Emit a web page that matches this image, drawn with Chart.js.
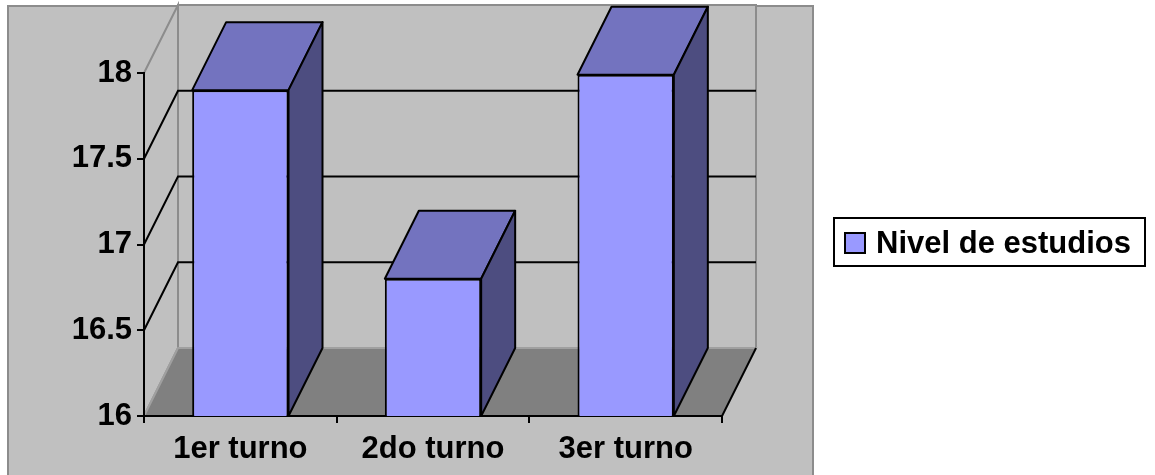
<!DOCTYPE html>
<html>
<head>
<meta charset="utf-8">
<script src="https://cdn.jsdelivr.net/npm/chart.js@4"></script>
<style>
  body { margin: 0; background: #fff; }
  #wrap { width: 1155px; height: 475px; position: relative; }
</style>
</head>
<body>
<div id="wrap"><canvas id="chart"></canvas></div>
<script>
// categories along the bottom
const categories = ["1er turno", "2do turno", "3er turno"];
// bar heights
const nivelDeEstudios = [17.9, 16.8, 17.99];
const seriesName = "Nivel de estudios";
// value axis range
const yMin = 16;
const yMax = 18;
const yStep = 0.5;

// how far the back of the "3d" box is pushed, in pixels
const depthX = 34;
const depthY = -68;

const frontColor = "#9999FF";
const topColor = "#7373BF";
const sideColor = "#4D4D80";
const wallColor = "#C0C0C0";
const floorColor = "#808080";
const edgeGray = "#8C8C8C";

const labelFont = {
  family: "Liberation Sans, Arial, sans-serif",
  size: 31,
  weight: "bold",
};

function poly(ctx, pts, fill, stroke, width) {
  ctx.beginPath();
  ctx.moveTo(pts[0][0], pts[0][1]);
  for (let i = 1; i < pts.length; i++) ctx.lineTo(pts[i][0], pts[i][1]);
  ctx.closePath();
  if (fill) {
    ctx.fillStyle = fill;
    ctx.fill();
  }
  if (stroke) {
    ctx.strokeStyle = stroke;
    ctx.lineWidth = width;
    ctx.stroke();
  }
}

function line(ctx, pts, color, width) {
  ctx.beginPath();
  ctx.moveTo(pts[0][0], pts[0][1]);
  for (let i = 1; i < pts.length; i++) ctx.lineTo(pts[i][0], pts[i][1]);
  ctx.strokeStyle = color;
  ctx.lineWidth = width;
  ctx.stroke();
}

// draws walls, floor and the extruded bar faces
const box3d = {
  id: "box3d",
  beforeDraw(chart) {
    const { ctx, chartArea: a } = chart;
    const y = chart.scales.y;
    ctx.save();
    ctx.fillStyle = "#fff";
    ctx.fillRect(0, 0, chart.width, chart.height);

    // gray plot area
    ctx.fillStyle = wallColor;
    ctx.fillRect(8, 6, 805, 480);
    ctx.strokeStyle = edgeGray;
    ctx.lineWidth = 2;
    ctx.strokeRect(8, 6, 805, 480);

    const L = a.left, R = a.right, T = a.top, B = a.bottom;
    // side wall
    poly(ctx, [[L, T], [L + depthX, T + depthY], [L + depthX, B + depthY], [L, B]], wallColor, edgeGray, 2);
    // back wall
    poly(ctx, [[L + depthX, T + depthY], [R + depthX, T + depthY], [R + depthX, B + depthY], [L + depthX, B + depthY]], wallColor, edgeGray, 2);
    // floor
    poly(ctx, [[L, B], [R, B], [R + depthX, B + depthY], [L + depthX, B + depthY]], floorColor, "#A0A0A0", 2);
    line(ctx, [[R, B], [R + depthX, B + depthY]], "#000", 2);

    // gridlines run along the side wall then across the back wall
    y.ticks.forEach((t) => {
      if (t.value <= yMin || t.value >= yMax) return;
      const py = y.getPixelForValue(t.value);
      line(ctx, [[L, py], [L + depthX, py + depthY], [R + depthX, py + depthY]], "#000", 2);
    });
    ctx.restore();
  },
  afterDatasetsDraw(chart) {
    const { ctx } = chart;
    const bottom = chart.chartArea.bottom;
    const meta = chart.getDatasetMeta(0);
    ctx.save();
    ctx.lineJoin = "round";
    meta.data.forEach((bar) => {
      const p = bar.getProps(["x", "y", "base", "width"], true);
      const base = Math.min(p.base, bottom);
      const x0 = p.x - p.width / 2;
      const x1 = p.x + p.width / 2;
      const y = p.y;
      poly(ctx, [[x0, y], [x1, y], [x1 + depthX, y + depthY], [x0 + depthX, y + depthY]], topColor, "#000", 2);
      poly(ctx, [[x1, y], [x1 + depthX, y + depthY], [x1 + depthX, base + depthY], [x1, base]], sideColor, "#000", 2);
    });
    ctx.restore();
  },
  afterDraw(chart) {
    const { ctx } = chart;
    const ds = chart.data.datasets[0];
    ctx.save();
    ctx.fillStyle = "#fff";
    ctx.fillRect(834, 218, 311, 48);
    ctx.strokeStyle = "#000";
    ctx.lineWidth = 2;
    ctx.strokeRect(834, 218, 311, 48);
    ctx.fillStyle = ds.backgroundColor;
    ctx.fillRect(845, 233, 20, 20);
    ctx.strokeRect(845, 233, 20, 20);
    ctx.fillStyle = "#000";
    ctx.font = `${labelFont.weight} ${labelFont.size}px ${labelFont.family}`;
    ctx.textBaseline = "middle";
    ctx.textAlign = "left";
    ctx.fillText(ds.label, 876, 244);
    ctx.restore();
  },
};

const chart = new Chart(document.querySelector("#chart"), {
  type: "bar",
  data: {
    labels: categories,
    datasets: [
      {
        label: seriesName,
        data: nivelDeEstudios,
        backgroundColor: frontColor,
        borderColor: "#000",
        borderWidth: 2,
        borderSkipped: false,
        barPercentage: 0.5,
        categoryPercentage: 1,
      },
    ],
  },
  options: {
    responsive: true,
    maintainAspectRatio: false,
    animation: false,
    layout: { padding: { top: 73, right: 433, left: 0, bottom: 0 } },
    plugins: {
      legend: { display: false },
      tooltip: { enabled: false },
    },
    scales: {
      x: {
        afterFit: (s) => { s.height = 59; },
        grid: { drawOnChartArea: false, tickLength: 7, color: "#000", lineWidth: 2 },
        border: { display: true, color: "#000", width: 2 },
        ticks: { color: "#000", font: labelFont, padding: 8, maxRotation: 0 },
      },
      y: {
        min: yMin,
        max: yMax,
        afterFit: (s) => { s.width = 144; },
        grid: { drawOnChartArea: false, tickLength: 7, color: "#000", lineWidth: 2 },
        border: { display: true, color: "#000", width: 2 },
        ticks: {
          stepSize: yStep,
          color: "#000",
          font: labelFont,
          padding: 5,
          callback: (v) => String(v),
        },
      },
    },
  },
  plugins: [box3d],
});
</script>
</body>
</html>
